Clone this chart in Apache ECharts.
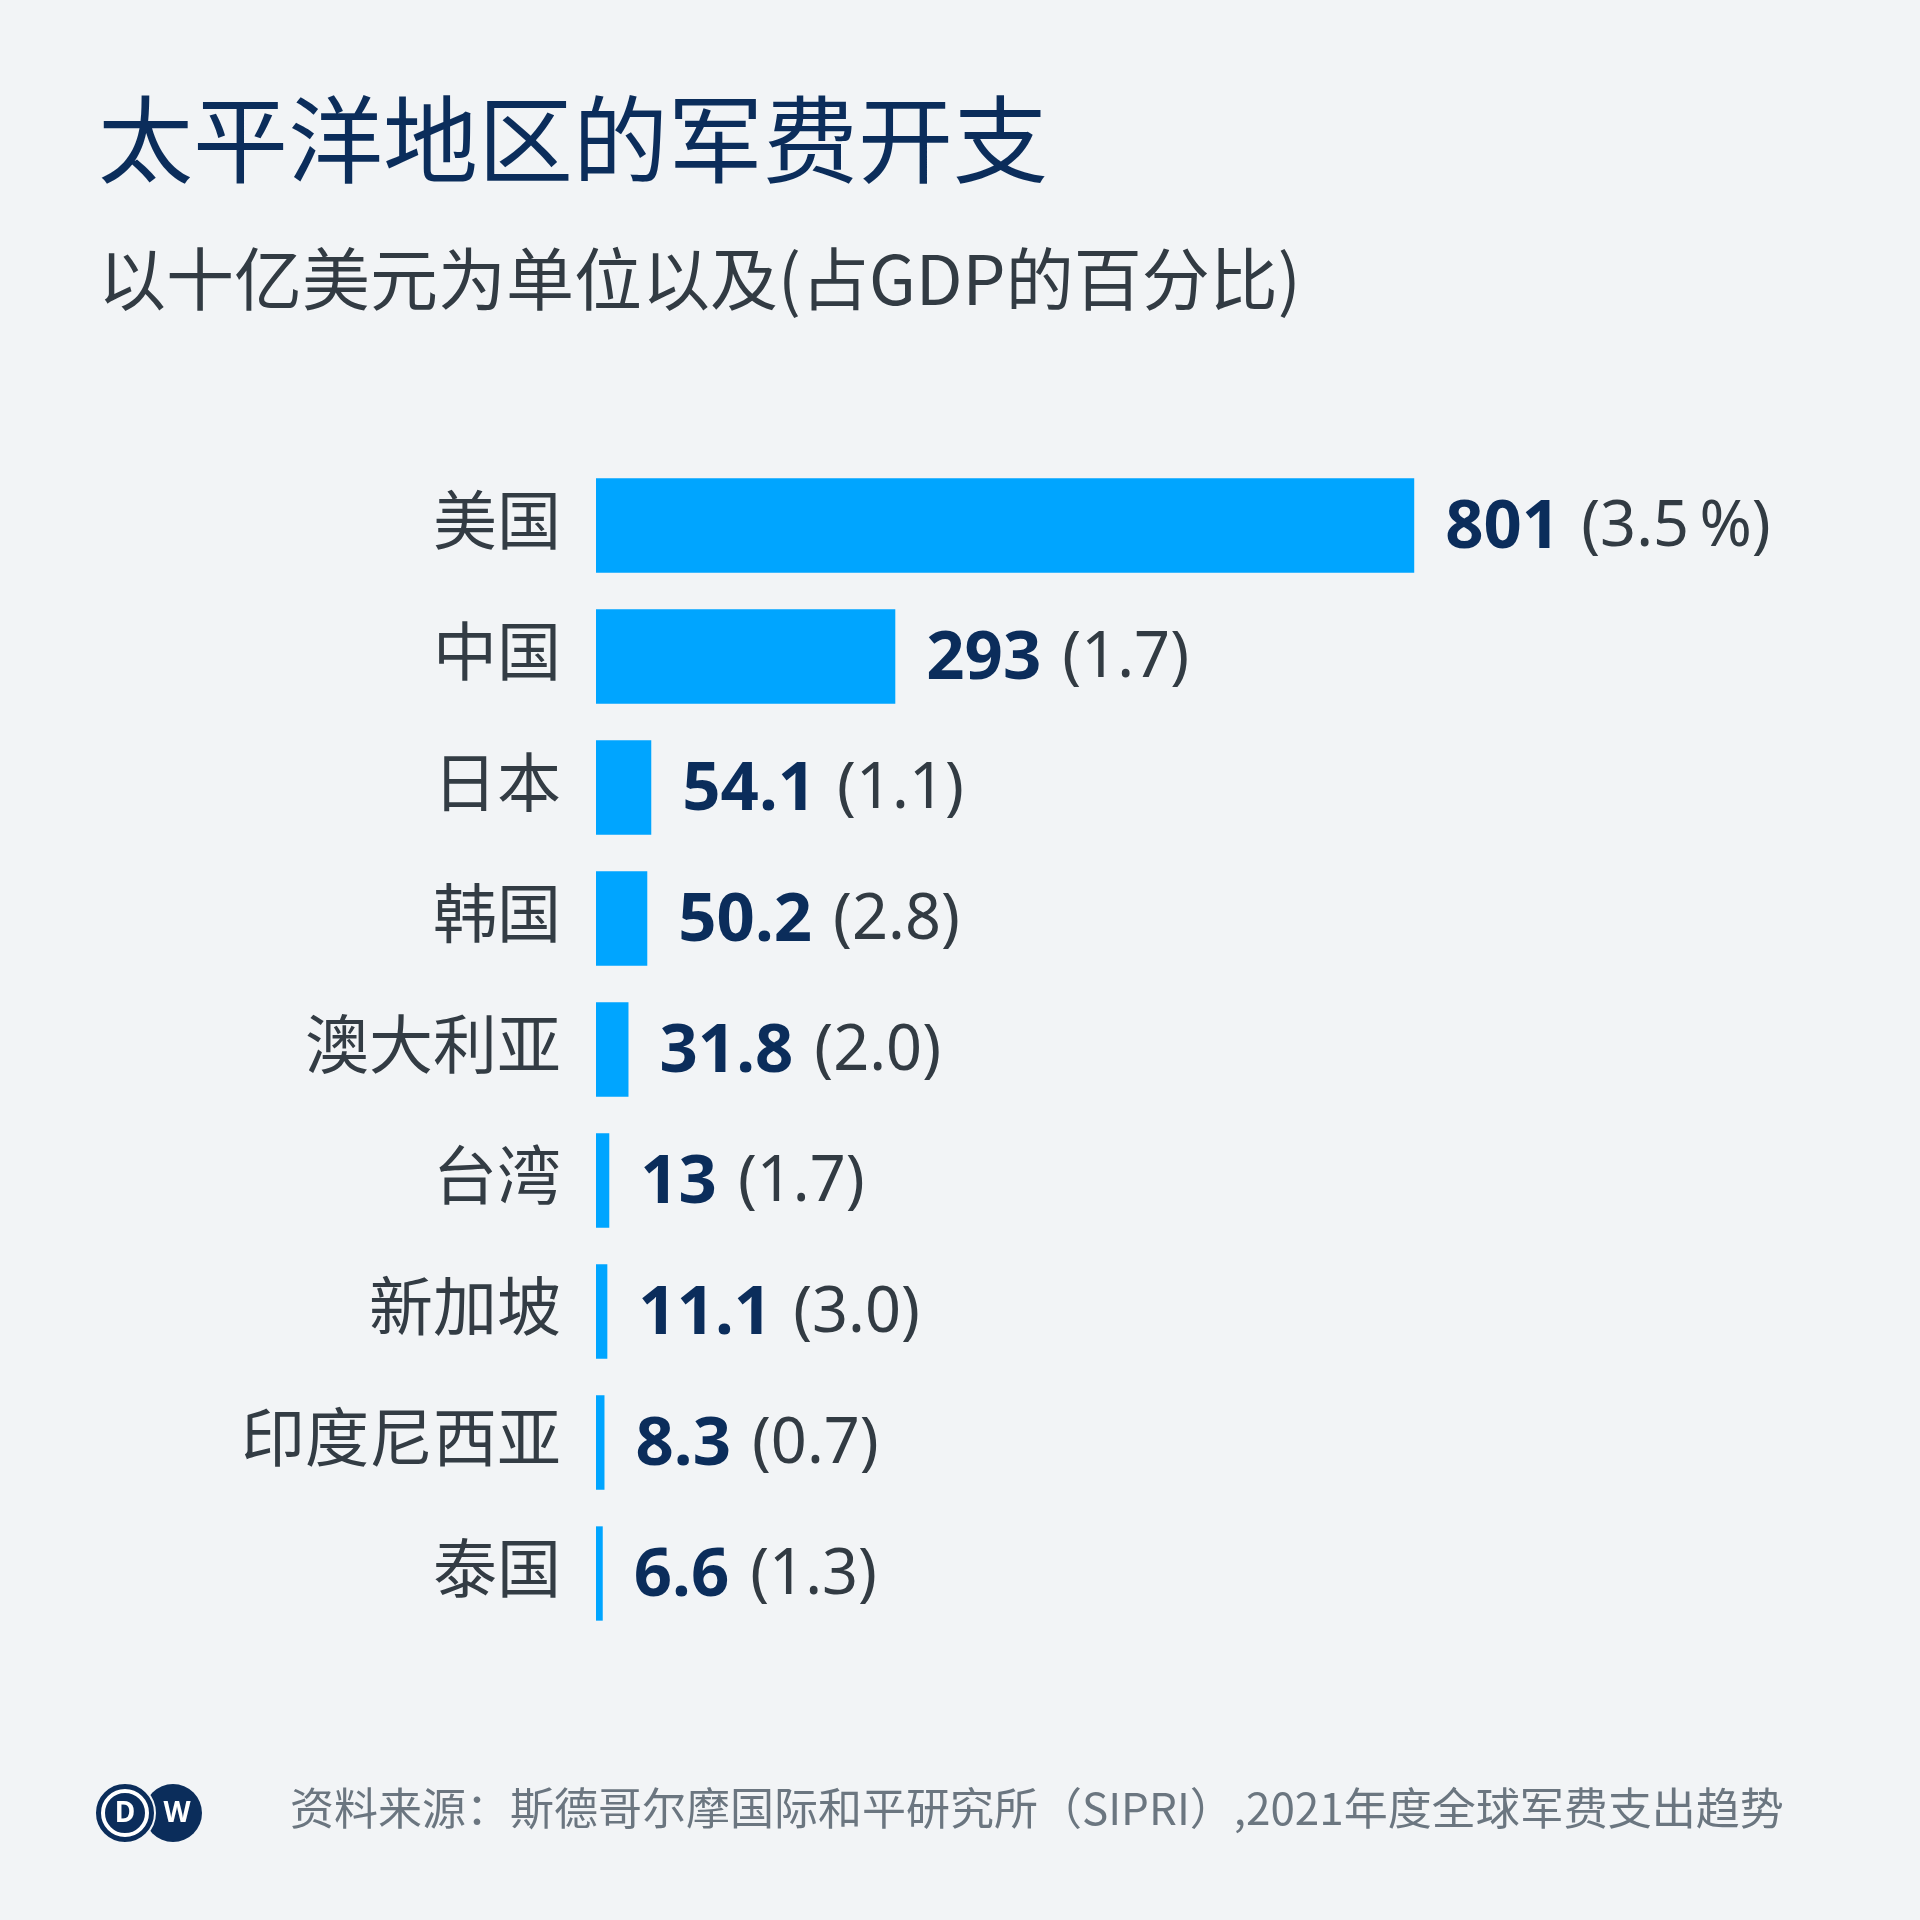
<!DOCTYPE html>
<html>
<head>
<meta charset="utf-8">
<script src="https://cdn.jsdelivr.net/npm/echarts@6/dist/echarts.min.js"></script>
<style>
html,body{margin:0;padding:0;background:#f2f4f6;}
#main{width:1920px;height:1920px;}
</style>
</head>
<body>
<div id="main"></div>
<script>
const categories = ['美国','中国','日本','韩国','澳大利亚','台湾','新加坡','印度尼西亚','泰国'];
const spending = [801, 293, 54.1, 50.2, 31.8, 13, 11.1, 8.3, 6.6];
const spendingText = ['801', '293', '54.1', '50.2', '31.8', '13', '11.1', '8.3', '6.6'];
const gdpShare = ['3.5\u2009%', '1.7', '1.1', '2.8', '2.0', '1.7', '3.0', '0.7', '1.3'];

const titleText = '太平洋地区的军费开支';
const subtitleText = '以十亿美元为单位以及(占GDP的百分比)';
const sourceText = '资料来源：斯德哥尔摩国际和平研究所（SIPRI）,2021年度全球军费支出趋势';

const CJK = '"Noto Sans CJK SC", "Noto Sans", sans-serif';
const LAT = '"Noto Sans", "Noto Sans CJK SC", sans-serif';

const chart = echarts.init(document.getElementById('main'), null, {renderer: 'canvas'});

const option = {
  backgroundColor: '#f2f4f6',
  animation: false,
  grid: {left: 596, width: 1021.5, top: 460, height: 1179, containLabel: false},
  xAxis: {
    type: 'value', min: 0, max: 1000,
    show: false
  },
  yAxis: {
    type: 'category', data: categories, inverse: true,
    axisLine: {show: false}, axisTick: {show: false}, splitLine: {show: false},
    axisLabel: {
      margin: 35,
      formatter: '{c|{value}}',
      rich: {
        c: {fontSize: 64, color: '#333c44', fontFamily: CJK, padding: [0, 0, 11, 0]}
      }
    }
  },
  series: [{
    type: 'bar',
    data: spending,
    barCategoryGap: '28%',
    itemStyle: {color: '#00a5ff'},
    label: {
      show: true, position: 'right', distance: 31, offset: [0, 3],
      formatter: function (p) {
        return '{v|' + spendingText[p.dataIndex] + '}{g|(' + gdpShare[p.dataIndex] + ')}';
      },
      rich: {
        v: {fontSize: 67, fontWeight: 'bold', color: '#0b2d5b', fontFamily: LAT},
        g: {fontSize: 63, color: '#323b43', fontFamily: LAT, padding: [0, 0, 0, 21]}
      }
    }
  }],
  graphic: [
    {type: 'text', left: 98, top: 92, style: {text: titleText, fontSize: 95, fill: '#0b2d5b', fontFamily: CJK, fontWeight: 'normal'}},
    {type: 'text', left: 98, top: 245, style: {text: subtitleText, fontSize: 68, fill: '#323b43', fontFamily: CJK}},
    {type: 'text', left: 290, top: 1786, style: {text: sourceText, fontSize: 44, fill: '#6b7680', fontFamily: CJK}},
    {type: 'circle', shape: {cx: 173, cy: 1813, r: 29}, style: {fill: '#0b2d5b'}},
    {type: 'circle', shape: {cx: 125, cy: 1813, r: 30}, style: {fill: '#0b2d5b', stroke: '#f2f4f6', lineWidth: 2}},
    {type: 'circle', shape: {cx: 125, cy: 1813, r: 22}, style: {fill: '#0b2d5b', stroke: '#ffffff', lineWidth: 4}},
    {type: 'text', x: 125, y: 1814, style: {text: 'D', fontSize: 28, fontWeight: 'bold', fill: '#ffffff', fontFamily: LAT, align: 'center', verticalAlign: 'middle'}},
    {type: 'text', x: 177, y: 1814, style: {text: 'W', fontSize: 28, fontWeight: 'bold', fill: '#ffffff', fontFamily: LAT, align: 'center', verticalAlign: 'middle'}}
  ]
};
chart.setOption(option);
</script>
</body>
</html>
